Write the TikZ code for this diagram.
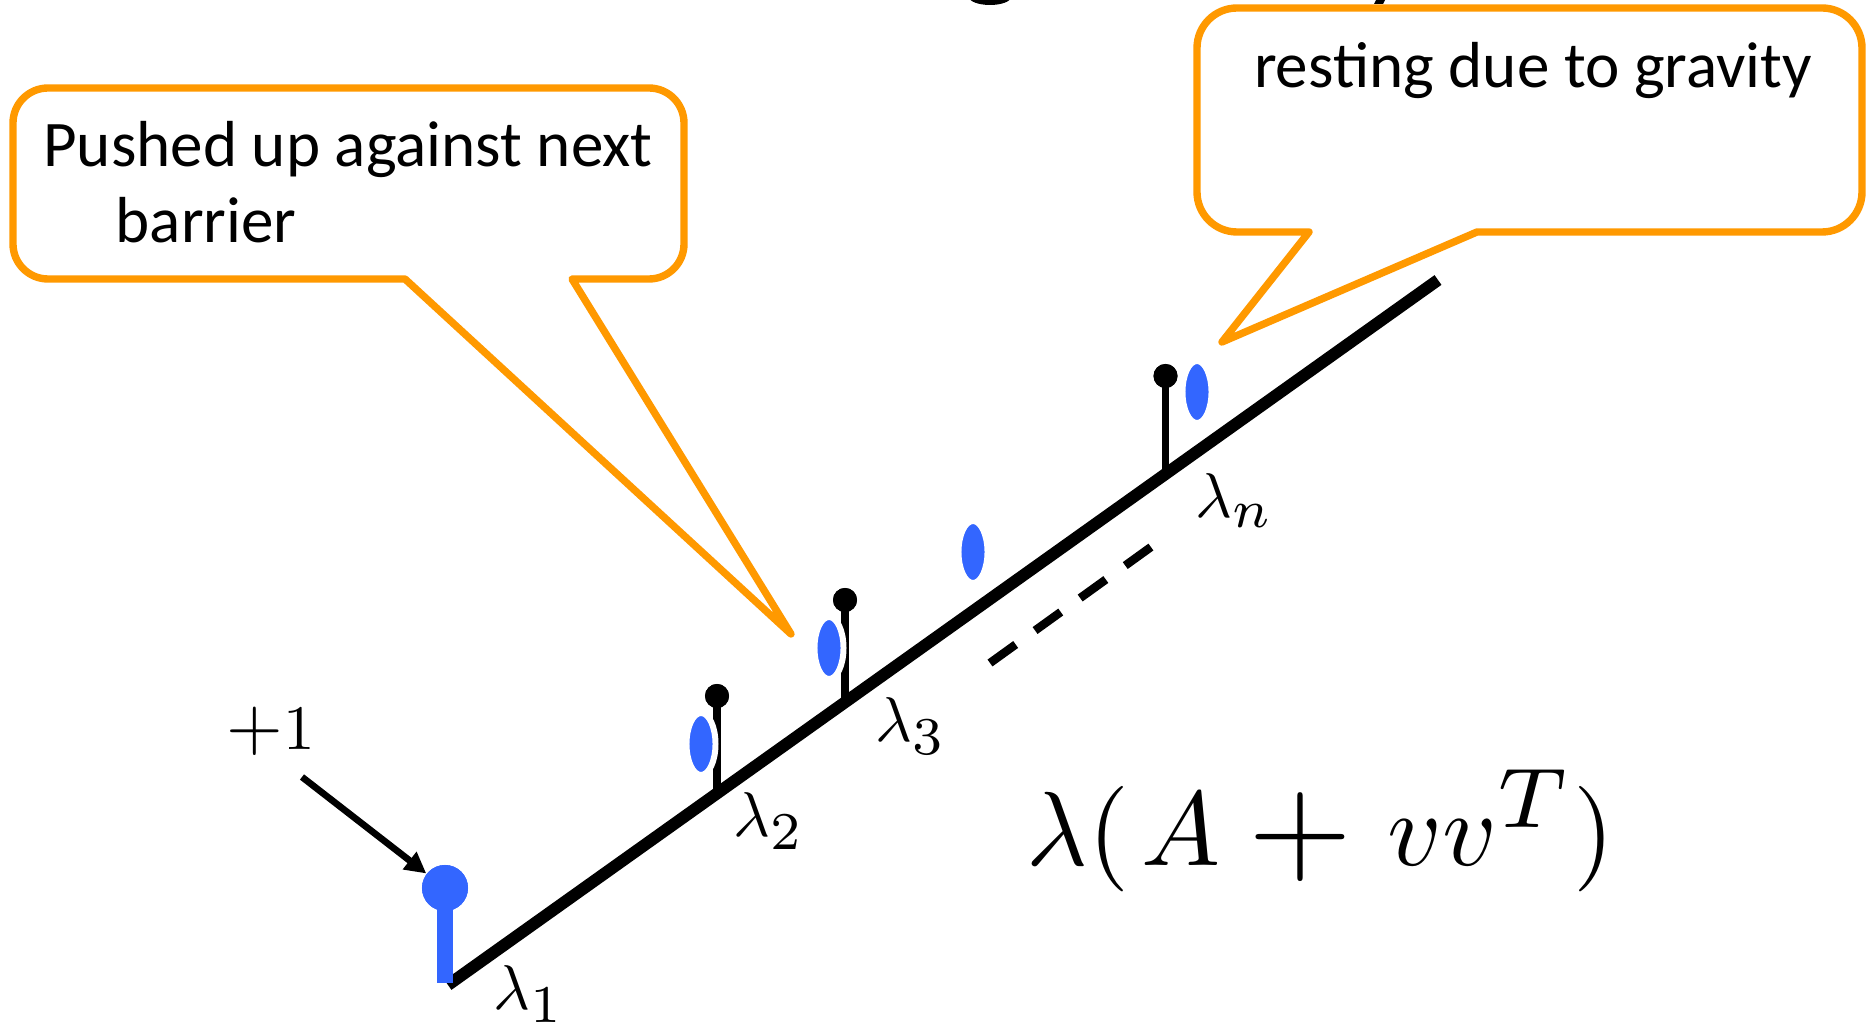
\documentclass[tikz,border=0pt]{standalone}
\usepackage[no-math]{fontspec}
\newfontfamily\callfont{Carlito}
\usepackage{graphicx}
\usetikzlibrary{arrows.meta,shapes.geometric}
\definecolor{orng}{RGB}{255,153,0}
\definecolor{pinblue}{RGB}{51,102,255}
\newcommand\lamlbl[1]{\scalebox{1.8}{$\lambda_{\scalebox{1.2}{$\scriptstyle #1$}}$}}
\begin{document}
\begin{tikzpicture}[x=0.01cm,y=-0.01cm,
  callout/.style={draw=orng,line width=2.1pt,line join=round,fill=white},
  calltext/.style={inner sep=0pt,font=\callfont\fontsize{18.5}{22}\selectfont},
  mathlbl/.style={inner sep=0pt},
  bulb/.style={circle,fill=black,inner sep=0pt,minimum size=0.24cm},
  bigbulb/.style={circle,fill=pinblue,inner sep=0pt,minimum size=0.46cm},
  pinstem/.style={line width=2.2pt,black},
  bigstem/.style={line width=4.3pt,pinblue},
  blob/.style={ellipse,fill=pinblue,draw=white,line width=1.7pt,inner sep=0pt,minimum width=0.29cm,minimum height=0.62cm},
  mainline/.style={line width=3.4pt,black},
  dashline/.style={line width=2.4pt,black,dash pattern=on 9pt off 6.8pt},
  arrowline/.style={line width=1.9pt,black,-{Triangle[length=6pt,width=6pt]}},
]
\useasboundingbox (0,0) rectangle (1866,1028);
\fill[white] (0,0) rectangle (1866,1028);

% fragments of a cut-off title
\begin{scope}
\clip (0,0) rectangle (1866,1028);
\fill (990,-3) ellipse [x radius=21,y radius=8];
\fill (1377,-2) -- (1386,-2) -- (1383,4) -- (1374,4) -- cycle;
\end{scope}

% callouts (corner radius 35 / 40, cubic approximations of arcs)
\draw[callout] (572,279) -- (649,279) .. controls (668.3,279) and (684,263.3) .. (684,244)
  -- (684,123) .. controls (684,103.7) and (668.3,88) .. (649,88)
  -- (48,88) .. controls (28.7,88) and (13,103.7) .. (13,123)
  -- (13,244) .. controls (13,263.3) and (28.7,279) .. (48,279)
  -- (405,279) -- (791,634) -- cycle;
\draw[callout] (1477,232) -- (1822,232) .. controls (1844.1,232) and (1862,214.1) .. (1862,192)
  -- (1862,48) .. controls (1862,25.9) and (1844.1,8) .. (1822,8)
  -- (1237,8) .. controls (1214.9,8) and (1197,25.9) .. (1197,48)
  -- (1197,192) .. controls (1197,214.1) and (1214.9,232) .. (1237,232)
  -- (1309,232) -- (1222,342) -- cycle;
\node[calltext,anchor=base] (t1) at (348,167) {Pushed up against next};
\node[calltext,anchor=base west] (t2) at (115,243) {barrier};
\node[calltext,anchor=base] (t3) at (1533,88) {resting due to gravity};

% main line
\coordinate (L0) at (448,985);
\coordinate (L1) at (1438,280);
\draw[mainline] (L0) -- (L1);

% stems and bulbs
\coordinate (sb) at (445,983);
\coordinate (s2) at (717,793);
\coordinate (s3) at (845,702);
\coordinate (sn) at (1165.5,474);
\node[bigbulb] (bb) at (445,888) {};
\node[bulb] (b2) at (717,696) {};
\node[bulb] (b3) at (845,600) {};
\node[bulb] (bn) at (1165.5,376) {};
\draw[bigstem] (bb.center) -- (sb);
\draw[pinstem] (b2.center) -- (s2);
\draw[pinstem] (b3.center) -- (s3);
\draw[pinstem] (bn.center) -- (sn);
\node[bigbulb] at (bb) {};
\node[bulb] at (b2) {};
\node[bulb] at (b3) {};
\node[bulb] at (bn) {};

% blue ellipses
\node[blob] (e2) at (701,744) {};
\node[blob] (e3) at (829,648) {};
\node[blob] (e4) at (973,552) {};
\node[blob] (e5) at (1197,392) {};

% dashed continuation
\coordinate (d0) at (990,663);
\coordinate (d1) at (1151,547);
\draw[dashline] (d0) -- (d1);

% labels
\node[mathlbl,anchor=base west] (l1) at (493,1010) {\lamlbl{1}};
\node[mathlbl,anchor=base west] (l2) at (733,837) {\lamlbl{2}};
\node[mathlbl,anchor=base west] (l3) at (875,742) {\lamlbl{3}};
\node[mathlbl,anchor=base west] (ln) at (1195,518) {\lamlbl{n}};

% formula lambda(A + vv^T), set in three parts to match the spacing
\node[mathlbl,anchor=base west] (f1) at (1026,866)
  {\scalebox{3.0}{$\lambda(\mkern2mu A$}};
\node[mathlbl,anchor=center] (f2) at (1300,837) {\scalebox{3.8}{$+$}};
\node[mathlbl,anchor=base west] (f3) at (1387,866)
  {\scalebox{3.0}{$vv^{\scalebox{1.15}{$\scriptstyle T$}})$}};

\node[mathlbl,anchor=base west] (plus1) at (226,750)
  {\scalebox{1.8}{\scalebox{1.15}{$+$}$1$}};

% arrow
\coordinate (astart) at (302,777);
\draw[arrowline] (astart) -- (bb);
\end{tikzpicture}
\end{document}
